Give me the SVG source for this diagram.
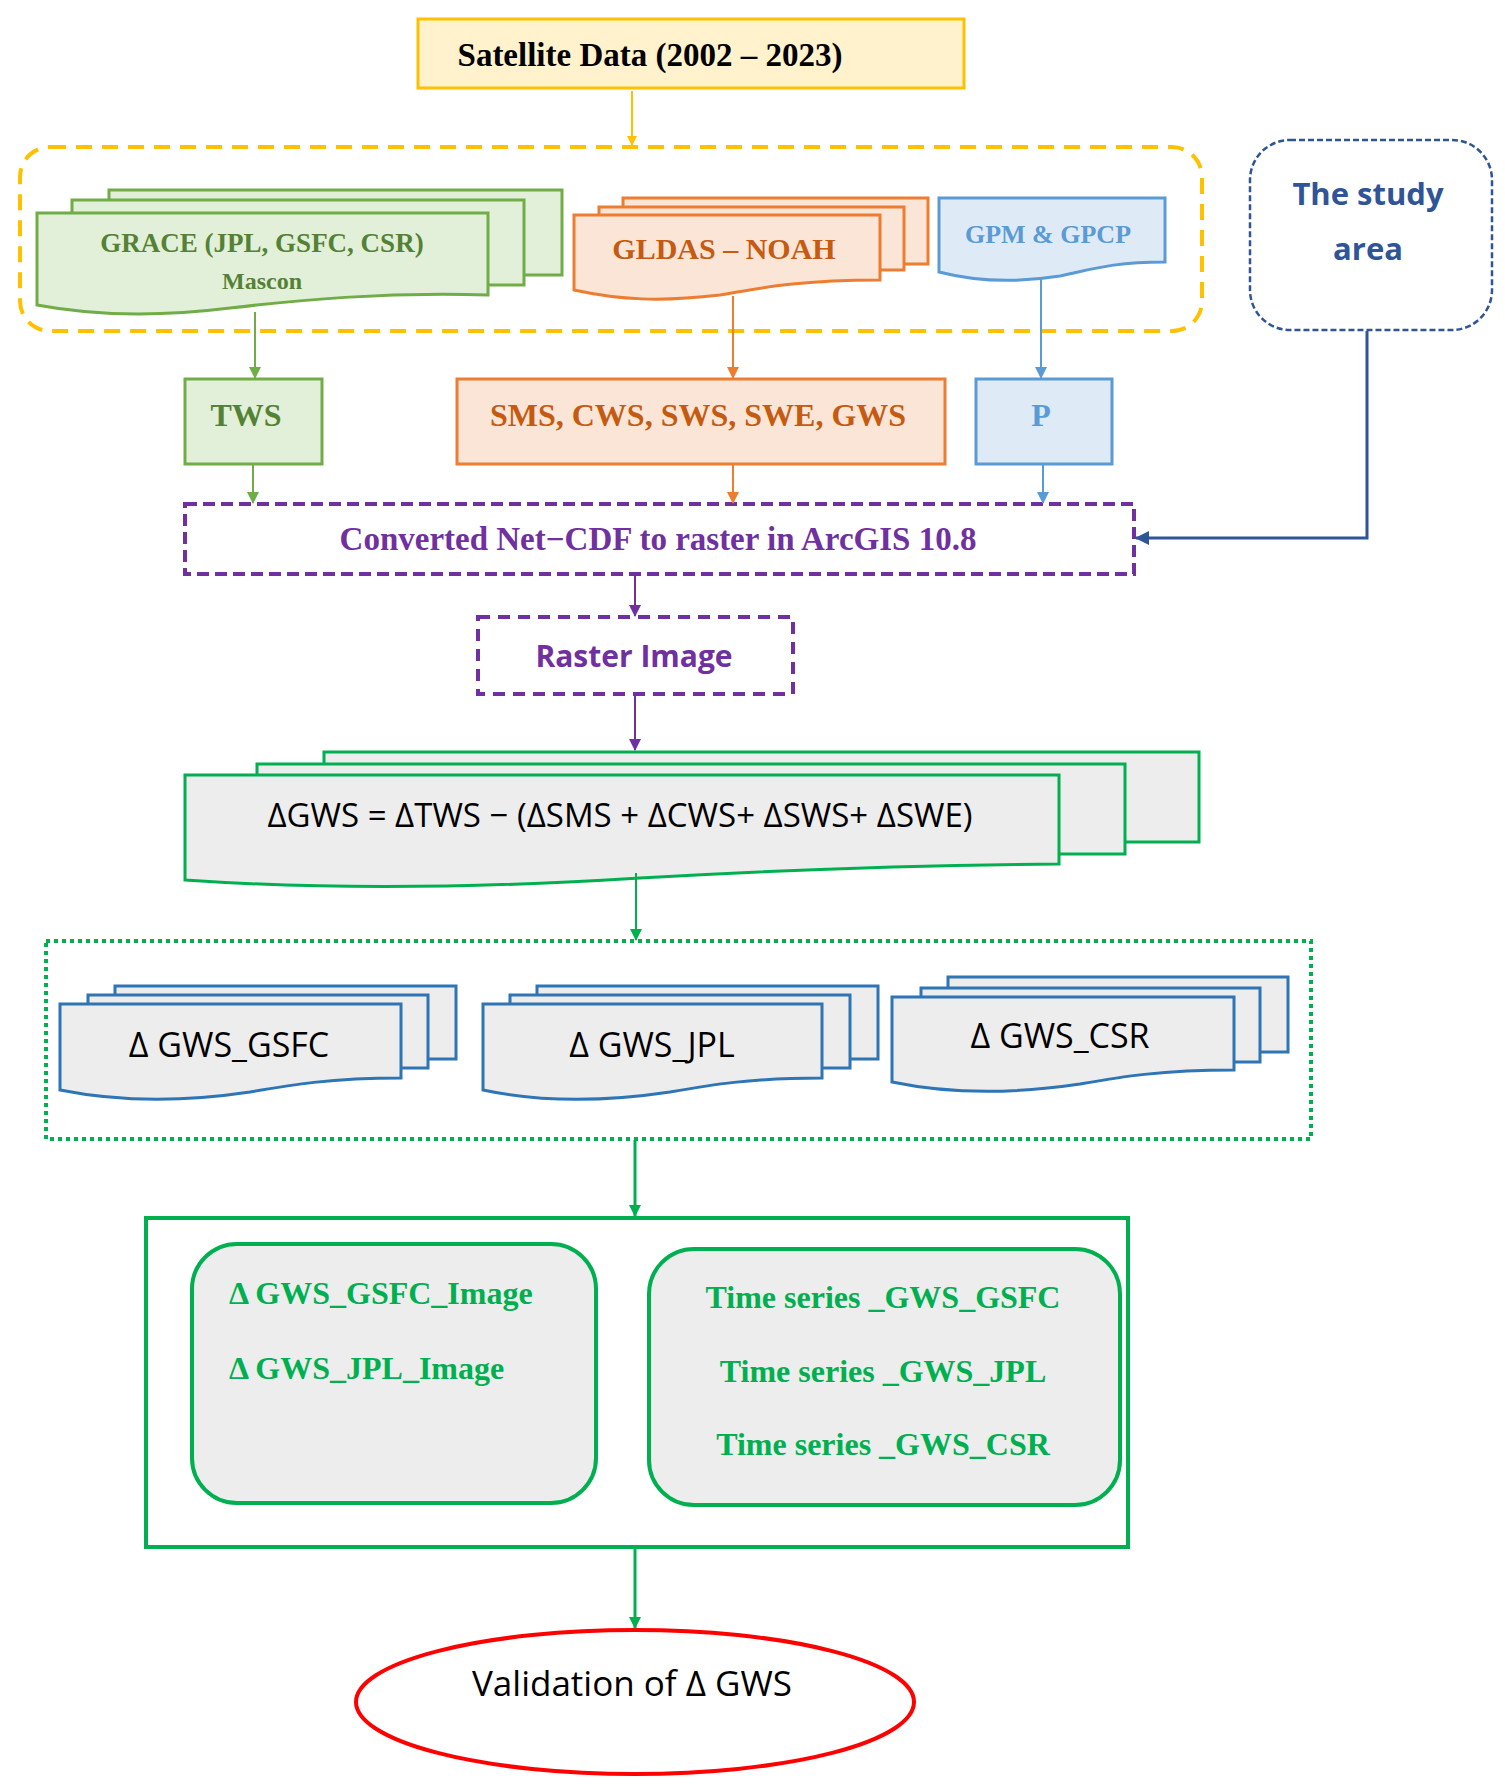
<svg xmlns="http://www.w3.org/2000/svg" width="1505" height="1792" viewBox="0 0 1505 1792">
<defs>
<style>
.sb{font-family:"Liberation Serif",serif;font-weight:bold}
.ss{font-family:"Open Sans","Liberation Sans",sans-serif}
text{text-anchor:middle}
</style>
<marker id="ay" markerWidth="10" markerHeight="10" refX="9" refY="5" orient="auto" markerUnits="userSpaceOnUse" viewBox="0 0 10 10"><path d="M0,0 L10,5 L0,10 Z" fill="#FFC000"/></marker>
<marker id="ag" markerWidth="12" markerHeight="12" refX="11" refY="6" orient="auto" markerUnits="userSpaceOnUse" viewBox="0 0 12 12"><path d="M0,0 L12,6 L0,12 Z" fill="#70AD47"/></marker>
<marker id="ao" markerWidth="12" markerHeight="12" refX="11" refY="6" orient="auto" markerUnits="userSpaceOnUse" viewBox="0 0 12 12"><path d="M0,0 L12,6 L0,12 Z" fill="#ED7D31"/></marker>
<marker id="ab" markerWidth="12" markerHeight="12" refX="11" refY="6" orient="auto" markerUnits="userSpaceOnUse" viewBox="0 0 12 12"><path d="M0,0 L12,6 L0,12 Z" fill="#5B9BD5"/></marker>
<marker id="an" markerWidth="14" markerHeight="14" refX="13" refY="7" orient="auto" markerUnits="userSpaceOnUse" viewBox="0 0 14 14"><path d="M0,0 L14,7 L0,14 Z" fill="#2F5597"/></marker>
<marker id="ap" markerWidth="12" markerHeight="12" refX="11" refY="6" orient="auto" markerUnits="userSpaceOnUse" viewBox="0 0 12 12"><path d="M0,0 L12,6 L0,12 Z" fill="#7030A0"/></marker>
<marker id="aG" markerWidth="12" markerHeight="12" refX="11" refY="6" orient="auto" markerUnits="userSpaceOnUse" viewBox="0 0 12 12"><path d="M0,0 L12,6 L0,12 Z" fill="#00B050"/></marker>
</defs>
<rect width="1505" height="1792" fill="#fff"/>

<g id="satellite">
<rect x="418" y="19" width="546" height="69" fill="#FFF2CC" stroke="#FFC000" stroke-width="3"/>
<text x="650" y="66" class="sb" font-size="33" fill="#000">Satellite Data (2002 – 2023)</text>
</g>

<g id="inputs-group">
<rect x="20" y="147" width="1182" height="184" rx="30" fill="none" stroke="#FFC000" stroke-width="4" stroke-dasharray="16,10"/>
</g>

<g id="grace">
<rect x="109" y="190" width="453" height="85" fill="#E2F0D9" stroke="#70AD47" stroke-width="3"/>
<rect x="72" y="200" width="452" height="85" fill="#E2F0D9" stroke="#70AD47" stroke-width="3"/>
<path d="M37,213 H488 V295 C380,292 300,300 230,308 C150,318 90,315 37,305 Z" fill="#E2F0D9" stroke="#70AD47" stroke-width="3"/>
<text x="262" y="252" class="sb" font-size="27" fill="#548235">GRACE (JPL, GSFC, CSR)</text>
<text x="262" y="289" class="sb" font-size="24" fill="#548235">Mascon</text>
</g>

<g id="gldas">
<rect x="623" y="198" width="305" height="66" fill="#FBE5D6" stroke="#ED7D31" stroke-width="3"/>
<rect x="599" y="207" width="305" height="63" fill="#FBE5D6" stroke="#ED7D31" stroke-width="3"/>
<path d="M574,215 H880 V280 C800,280 760,288 720,295 C660,302 620,300 574,290 Z" fill="#FBE5D6" stroke="#ED7D31" stroke-width="3"/>
<text x="724" y="259" class="sb" font-size="30" fill="#C55A11">GLDAS – NOAH</text>
</g>

<g id="gpm">
<path d="M939,198 H1165 V262 C1110,262 1090,270 1060,276 C1010,284 970,280 939,272 Z" fill="#DEEBF7" stroke="#5B9BD5" stroke-width="3"/>
<text x="1048" y="243" class="sb" font-size="26" fill="#5B9BD5">GPM &amp; GPCP</text>
</g>

<g id="study">
<rect x="1250" y="140" width="242" height="190" rx="40" fill="#fff" stroke="#2F5597" stroke-width="2.5" stroke-dasharray="6,3"/>
<text x="1368" y="205" class="ss" font-weight="bold" font-size="31" fill="#2F5597">The study</text>
<text x="1368" y="260" class="ss" font-weight="bold" font-size="31" fill="#2F5597">area</text>
</g>

<g id="tws">
<rect x="185" y="379" width="137" height="85" fill="#E2F0D9" stroke="#70AD47" stroke-width="3"/>
<text x="246" y="426" class="sb" font-size="32" fill="#548235">TWS</text>
</g>
<g id="sms">
<rect x="457" y="379" width="488" height="85" fill="#FBE5D6" stroke="#ED7D31" stroke-width="3"/>
<text x="698" y="426" class="sb" font-size="32" fill="#C55A11">SMS, CWS, SWS, SWE, GWS</text>
</g>
<g id="p">
<rect x="976" y="379" width="136" height="85" fill="#DEEBF7" stroke="#5B9BD5" stroke-width="3"/>
<text x="1041" y="426" class="sb" font-size="32" fill="#5B9BD5">P</text>
</g>

<g id="convert">
<rect x="185" y="504" width="949" height="70" fill="#fff" stroke="#7030A0" stroke-width="4" stroke-dasharray="12,6"/>
<text x="658" y="550" class="sb" font-size="33" fill="#7030A0">Converted Net−CDF to raster in ArcGIS 10.8</text>
</g>

<g id="raster">
<rect x="478" y="617" width="315" height="77" fill="#fff" stroke="#7030A0" stroke-width="4" stroke-dasharray="12,8"/>
<text x="634" y="667" class="ss" font-weight="bold" font-size="30" fill="#7030A0">Raster Image</text>
</g>

<g id="equation">
<rect x="324" y="752" width="875" height="90" fill="#EDEDED" stroke="#00B050" stroke-width="3"/>
<rect x="257" y="764" width="868" height="90" fill="#EDEDED" stroke="#00B050" stroke-width="3"/>
<path d="M185,775 H1059 V864 C900,865 780,870 640,878 C450,890 300,888 185,880 Z" fill="#EDEDED" stroke="#00B050" stroke-width="3"/>
<text x="620" y="827" class="ss" font-size="33" fill="#000">ΔGWS = ΔTWS − (ΔSMS + ΔCWS+ ΔSWS+ ΔSWE)</text>
</g>

<g id="gws-group">
<rect x="46" y="941" width="1265" height="198" fill="none" stroke="#00B050" stroke-width="4" stroke-dasharray="4,4"/>
</g>

<g id="gws-gsfc">
<rect x="115" y="986" width="341" height="73" fill="#EDEDED" stroke="#2E75B6" stroke-width="3"/>
<rect x="88" y="995" width="340" height="73" fill="#EDEDED" stroke="#2E75B6" stroke-width="3"/>
<path d="M60,1004 H401 V1078 C330,1078 290,1085 250,1092 C170,1104 110,1100 60,1090 Z" fill="#EDEDED" stroke="#2E75B6" stroke-width="3"/>
<text x="229" y="1057" class="ss" font-size="34" fill="#000">Δ GWS_GSFC</text>
</g>
<g id="gws-jpl">
<rect x="537" y="986" width="341" height="73" fill="#EDEDED" stroke="#2E75B6" stroke-width="3"/>
<rect x="510" y="995" width="340" height="73" fill="#EDEDED" stroke="#2E75B6" stroke-width="3"/>
<path d="M483,1004 H822 V1078 C750,1078 710,1085 670,1092 C590,1104 530,1100 483,1090 Z" fill="#EDEDED" stroke="#2E75B6" stroke-width="3"/>
<text x="652" y="1057" class="ss" font-size="34" fill="#000">Δ GWS_JPL</text>
</g>
<g id="gws-csr">
<rect x="948" y="977" width="340" height="75" fill="#EDEDED" stroke="#2E75B6" stroke-width="3"/>
<rect x="921" y="988" width="339" height="74" fill="#EDEDED" stroke="#2E75B6" stroke-width="3"/>
<path d="M892,997 H1234 V1070 C1160,1070 1120,1077 1080,1084 C1000,1096 940,1092 892,1082 Z" fill="#EDEDED" stroke="#2E75B6" stroke-width="3"/>
<text x="1060" y="1048" class="ss" font-size="34" fill="#000">Δ GWS_CSR</text>
</g>

<g id="results">
<rect x="146" y="1218" width="982" height="329" fill="#fff" stroke="#00B050" stroke-width="4"/>
</g>
<g id="images">
<rect x="192" y="1244" width="404" height="259" rx="45" fill="#EDEDED" stroke="#00B050" stroke-width="4"/>
<text x="229" y="1304" class="sb" font-size="32" fill="#00B050" style="text-anchor:start">Δ GWS_GSFC_Image</text>
<text x="229" y="1379" class="sb" font-size="32" fill="#00B050" style="text-anchor:start">Δ GWS_JPL_Image</text>
</g>
<g id="timeseries">
<rect x="649" y="1249" width="471" height="256" rx="45" fill="#EDEDED" stroke="#00B050" stroke-width="4"/>
<text x="883" y="1308" class="sb" font-size="32" fill="#00B050">Time series _GWS_GSFC</text>
<text x="883" y="1382" class="sb" font-size="32" fill="#00B050">Time series _GWS_JPL</text>
<text x="883" y="1455" class="sb" font-size="32" fill="#00B050">Time series _GWS_CSR</text>
</g>

<g id="validation">
<ellipse cx="635" cy="1702" rx="279" ry="72" fill="#fff" stroke="#FF0000" stroke-width="4"/>
<text x="632" y="1696" class="ss" font-size="35" fill="#000">Validation of Δ GWS</text>
</g>

<g id="connectors" fill="none" stroke-width="2">
<line x1="632" y1="91" x2="632" y2="145" stroke="#FFC000" marker-end="url(#ay)"/>
<line x1="255" y1="312" x2="255" y2="378" stroke="#70AD47" marker-end="url(#ag)"/>
<line x1="733" y1="296" x2="733" y2="378" stroke="#ED7D31" marker-end="url(#ao)"/>
<line x1="1041" y1="277" x2="1041" y2="378" stroke="#5B9BD5" marker-end="url(#ab)"/>
<line x1="253" y1="465" x2="253" y2="503" stroke="#70AD47" marker-end="url(#ag)"/>
<line x1="733" y1="465" x2="733" y2="503" stroke="#ED7D31" marker-end="url(#ao)"/>
<line x1="1043" y1="465" x2="1043" y2="503" stroke="#5B9BD5" marker-end="url(#ab)"/>
<polyline points="1367,331 1367,538 1136,538" stroke="#2F5597" stroke-width="3" marker-end="url(#an)"/>
<line x1="635" y1="576" x2="635" y2="616" stroke="#7030A0" marker-end="url(#ap)"/>
<line x1="635" y1="695" x2="635" y2="750" stroke="#7030A0" marker-end="url(#ap)"/>
<line x1="636" y1="873" x2="636" y2="940" stroke="#00B050" marker-end="url(#aG)"/>
<line x1="635" y1="1140" x2="635" y2="1216" stroke="#00B050" stroke-width="3" marker-end="url(#aG)"/>
<line x1="635" y1="1549" x2="635" y2="1628" stroke="#00B050" stroke-width="3" marker-end="url(#aG)"/>
</g>
</svg>
